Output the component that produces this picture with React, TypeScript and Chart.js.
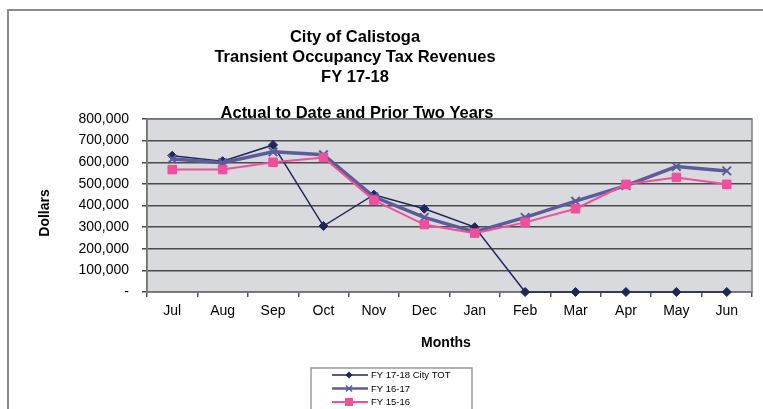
import React, { useEffect, useRef } from "react";
import { Chart, registerables } from "chart.js";

Chart.register(...registerables);

const months = ["Jul", "Aug", "Sep", "Oct", "Nov", "Dec", "Jan", "Feb", "Mar", "Apr", "May", "Jun"];
const fy1718 = [630000, 605000, 680000, 305000, 450000, 385000, 300000, 0, 0, 0, 0, 0];
const fy1617 = [615000, 598000, 648000, 635000, 440000, 345000, 278000, 345000, 420000, 492000, 580000, 560000];
const fy1516 = [566000, 566000, 600000, 622000, 425000, 312000, 272000, 322000, 385000, 498000, 530000, 498000];
const seriesNames = ["FY 17-18 City TOT", "FY 16-17", "FY 15-16"];
const titleLines = ["City of Calistoga", "Transient Occupancy Tax Revenues", "FY 17-18"];
const subTitle = "Actual to Date and Prior Two Years";
const yTitle = "Dollars";
const xTitle = "Months";

const FONT = "Arial, 'Liberation Sans', sans-serif";

const extras = {
  id: "extras",
  beforeDraw(chart: any) {
    const { ctx, chartArea: a } = chart;
    ctx.save();
    ctx.fillStyle = "#ffffff";
    ctx.fillRect(0, 0, chart.width, chart.height);
    // outer frame
    ctx.strokeStyle = "#8a8a8a";
    ctx.lineWidth = 2;
    ctx.beginPath();
    ctx.moveTo(8, 420);
    ctx.lineTo(8, 10);
    ctx.lineTo(770, 10);
    ctx.stroke();
    // plot background
    ctx.fillStyle = "#d9dadd";
    ctx.fillRect(a.left, a.top, a.right - a.left, a.bottom - a.top);
    ctx.restore();
  },
  beforeDatasetsDraw(chart: any) {
    const { ctx, chartArea: a } = chart;
    ctx.save();
    ctx.strokeStyle = "#7d7d7d";
    ctx.lineWidth = 1.5;
    ctx.strokeRect(a.left, a.top, a.right - a.left, a.bottom - a.top);
    ctx.restore();
  },
  afterDraw(chart: any) {
    const { ctx } = chart;
    ctx.save();
    // titles
    ctx.fillStyle = "#000";
    ctx.textAlign = "center";
    ctx.textBaseline = "middle";
    ctx.font = `bold 16.5px ${FONT}`;
    titleLines.forEach((t, i) => ctx.fillText(t, 355, 37 + i * 20));
    ctx.font = `bold 16.5px ${FONT}`;
    ctx.fillText(subTitle, 357, 113);
    ctx.font = `bold 14px ${FONT}`;
    ctx.fillText(xTitle, 446, 343);
    ctx.save();
    ctx.translate(45, 213);
    ctx.rotate(-Math.PI / 2);
    ctx.fillText(yTitle, 0, 0);
    ctx.restore();
    // legend
    const lx = 311, ly = 368, lw = 161, lh = 45;
    ctx.strokeStyle = "#9a9a9a";
    ctx.lineWidth = 1.5;
    ctx.strokeRect(lx, ly, lw, lh);
    const ds = chart.data.datasets;
    seriesNames.forEach((name, i) => {
      const d = ds.find((x: any) => x.label === name);
      const y = ly + 7 + i * 13.5;
      ctx.strokeStyle = d.borderColor;
      ctx.lineWidth = Math.min(d.borderWidth, 2.5);
      ctx.beginPath();
      ctx.moveTo(lx + 21, y);
      ctx.lineTo(lx + 57, y);
      ctx.stroke();
      const cx = lx + 38;
      ctx.fillStyle = d.pointBackgroundColor;
      ctx.strokeStyle = d.pointBorderColor;
      ctx.lineWidth = 1.5;
      if (d.pointStyle === "rectRot") {
        ctx.beginPath();
        ctx.moveTo(cx, y - 3.5); ctx.lineTo(cx + 3.5, y); ctx.lineTo(cx, y + 3.5); ctx.lineTo(cx - 3.5, y); ctx.closePath();
        ctx.fill();
      } else if (d.pointStyle === "crossRot") {
        ctx.beginPath();
        ctx.moveTo(cx - 3, y - 3); ctx.lineTo(cx + 3, y + 3);
        ctx.moveTo(cx + 3, y - 3); ctx.lineTo(cx - 3, y + 3);
        ctx.stroke();
      } else {
        ctx.fillRect(cx - 4, y - 4, 8, 8);
      }
      ctx.fillStyle = "#000";
      ctx.textAlign = "left";
      ctx.font = `9.5px ${FONT}`;
      ctx.fillText(d.label, lx + 60, y + 0.5);
    });
    ctx.restore();
  },
};

export default function App() {
  const ref = useRef<HTMLCanvasElement>(null);
  useEffect(() => {
    if (!ref.current) return;
    const chart = new Chart(ref.current, {
      type: "line",
      data: {
        labels: months,
        datasets: [
          {
            label: seriesNames[1],
            data: fy1617,
            borderColor: "#5b5c99",
            backgroundColor: "#5b5c99",
            pointBackgroundColor: "#5b5c99",
            pointBorderColor: "#5b5c99",
            borderWidth: 3.5,
            pointStyle: "crossRot",
            pointRadius: 6,
            pointBorderWidth: 2,
            tension: 0,
            order: 2,
          },
          {
            label: seriesNames[2],
            data: fy1516,
            borderColor: "#ef4f9b",
            backgroundColor: "#ef4f9b",
            pointBackgroundColor: "#ef4f9b",
            pointBorderColor: "#ef4f9b",
            borderWidth: 2,
            pointStyle: "rect",
            pointRadius: 6,
            pointBorderWidth: 1,
            tension: 0,
            order: 1,
          },
          {
            label: seriesNames[0],
            data: fy1718,
            borderColor: "#1f2659",
            backgroundColor: "#1f2659",
            pointBackgroundColor: "#1f2659",
            pointBorderColor: "#1f2659",
            borderWidth: 1.5,
            pointStyle: "rectRot",
            pointRadius: 4.5,
            pointBorderWidth: 1,
            tension: 0,
            order: 3,
            clip: false,
          },
        ],
      },
      options: {
        animation: false,
        responsive: false,
        maintainAspectRatio: false,
        devicePixelRatio: 1,
        layout: { padding: { left: 0, top: 119, right: 11, bottom: 0 } },
        plugins: { legend: { display: false }, title: { display: false }, tooltip: { enabled: false } },
        scales: {
          x: {
            offset: true,
            grid: {
              display: true,
              offset: true,
              drawOnChartArea: false,
              tickLength: 5,
              color: "#555",
              lineWidth: 1.5,
            },
            border: { display: true, color: "#555", width: 1.5 },
            ticks: { color: "#000", font: { family: FONT, size: 14 }, padding: 6 },
            afterFit(scale: any) { scale.height = 117; },
          },
          y: {
            min: 0,
            max: 800000,
            grid: { color: "#4a4a4a", lineWidth: 1.5, tickLength: 5 },
            border: { display: true, color: "#555", width: 1.5 },
            ticks: {
              stepSize: 100000,
              color: "#000",
              font: { family: FONT, size: 14 },
              padding: 13,
              callback: (v: any) => (Number(v) === 0 ? "-" : Number(v).toLocaleString("en-US")),
            },
            afterFit(scale: any) { scale.width = 147; },
          },
        },
      },
      plugins: [extras],
    });
    return () => chart.destroy();
  }, []);
  return (
    <div style={{ position: "absolute", left: 0, top: 0, width: 763, height: 409 }}>
      <canvas ref={ref} width={763} height={409} style={{ width: 763, height: 409 }} />
    </div>
  );
}
